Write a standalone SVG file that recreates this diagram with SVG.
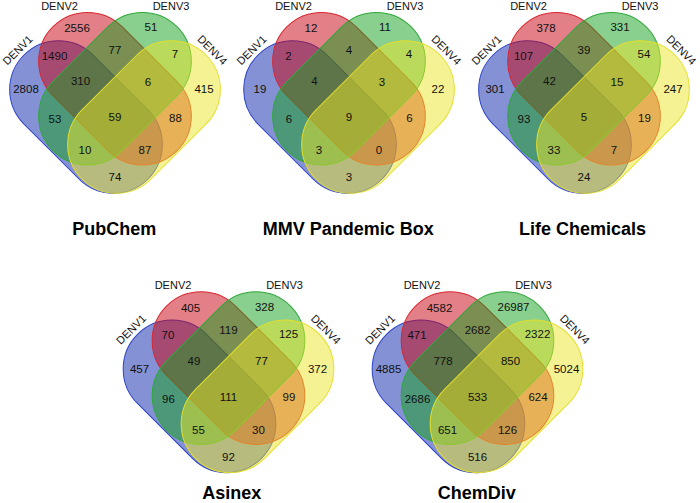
<svg xmlns="http://www.w3.org/2000/svg" xmlns:xlink="http://www.w3.org/1999/xlink" width="700" height="503" viewBox="0 0 700 503">
<style>
.b{fill:rgb(10,35,170);fill-opacity:.5;stroke:#2c42c4;stroke-width:1}
.r{fill:rgb(200,10,25);fill-opacity:.52;stroke:#d9262f;stroke-width:1}
.g{fill:rgb(20,160,30);fill-opacity:.5;stroke:#2fa83a;stroke-width:1}
.y{fill:rgb(235,230,40);fill-opacity:.5;stroke:#e3df2c;stroke-width:1}
text{font-family:"Liberation Sans",Arial,Helvetica,sans-serif;text-anchor:middle;fill:#111}
.n{font-size:11.5px}
.l{font-size:11px}
.t{font-size:18px;font-weight:bold;fill:#000}
</style>
<defs>
<rect id="s" x="-87.7" y="-48.85" width="175.4" height="97.7" rx="48.85" ry="48.85"/>
<g id="sets">
<use xlink:href="#s" class="b" transform="translate(-29,-0.3) rotate(45)"/>
<use xlink:href="#s" class="r" transform="translate(0,-28.6) rotate(45)"/>
<use xlink:href="#s" class="g" transform="translate(0,-28.6) rotate(-45)"/>
<use xlink:href="#s" class="y" transform="translate(29,-0.3) rotate(-45)"/>
</g>
<g id="labels">
<text class="l" transform="translate(-97.5,-67.3) rotate(-45)" x="0" y="4">DENV1</text>
<text class="l" x="-55.5" y="-107.8">DENV2</text>
<text class="l" x="56" y="-107.8">DENV3</text>
<text class="l" transform="translate(97.5,-67.3) rotate(45)" x="0" y="4">DENV4</text>
</g>
</defs>

<g id="pubchem" transform="translate(115,117.3)">
<use xlink:href="#sets"/>
<use xlink:href="#labels"/>
<g class="n">
<text x="-89" y="-23.9">2808</text><text x="-38" y="-84.9">2556</text><text x="36" y="-85.9">51</text><text x="89" y="-23.9">415</text>
<text x="-60.5" y="-57.4">1490</text><text x="0" y="-62.9">77</text><text x="60" y="-58.9">7</text>
<text x="-34.5" y="-31.9">310</text><text x="33" y="-31.4">6</text><text x="0" y="4.1">59</text>
<text x="-60" y="6.1">53</text><text x="60.5" y="4.6">88</text><text x="-30" y="37.1">10</text><text x="30" y="37.1">87</text><text x="0" y="64.1">74</text>
</g>
</g>
<text class="t" x="114.2" y="235">PubChem</text>

<g id="mmv" transform="translate(349,117.3)">
<use xlink:href="#sets"/>
<use xlink:href="#labels"/>
<g class="n">
<text x="-89" y="-23.9">19</text><text x="-38" y="-84.9">12</text><text x="36" y="-85.9">11</text><text x="89" y="-23.9">22</text>
<text x="-60.5" y="-57.4">2</text><text x="0" y="-62.9">4</text><text x="60" y="-58.9">4</text>
<text x="-34.5" y="-31.9">4</text><text x="33" y="-31.4">3</text><text x="0" y="4.1">9</text>
<text x="-60" y="6.1">6</text><text x="60.5" y="4.6">6</text><text x="-30" y="37.1">3</text><text x="30" y="37.1">0</text><text x="0" y="64.1">3</text>
</g>
</g>
<text class="t" x="348.3" y="235">MMV Pandemic Box</text>

<g id="lifechem" transform="translate(584,117.3)">
<use xlink:href="#sets"/>
<use xlink:href="#labels"/>
<g class="n">
<text x="-89" y="-23.9">301</text><text x="-38" y="-84.9">378</text><text x="36" y="-85.9">331</text><text x="89" y="-23.9">247</text>
<text x="-60.5" y="-57.4">107</text><text x="0" y="-62.9">39</text><text x="60" y="-58.9">54</text>
<text x="-34.5" y="-31.9">42</text><text x="33" y="-31.4">15</text><text x="0" y="4.1">5</text>
<text x="-60" y="6.1">93</text><text x="60.5" y="4.6">19</text><text x="-30" y="37.1">33</text><text x="30" y="37.1">7</text><text x="0" y="64.1">24</text>
</g>
</g>
<text class="t" x="582.5" y="235">Life Chemicals</text>

<g id="asinex" transform="translate(228.5,396.7)">
<use xlink:href="#sets"/>
<use xlink:href="#labels"/>
<g class="n">
<text x="-89" y="-23.9">457</text><text x="-38" y="-84.9">405</text><text x="36" y="-85.9">328</text><text x="89" y="-23.9">372</text>
<text x="-60.5" y="-57.4">70</text><text x="0" y="-62.9">119</text><text x="60" y="-58.9">125</text>
<text x="-34.5" y="-31.9">49</text><text x="33" y="-31.4">77</text><text x="0" y="4.1">111</text>
<text x="-60" y="6.1">96</text><text x="60.5" y="4.6">99</text><text x="-30" y="37.1">55</text><text x="30" y="37.1">30</text><text x="0" y="64.1">92</text>
</g>
</g>
<text class="t" x="231.7" y="499">Asinex</text>

<g id="chemdiv" transform="translate(477.5,396.7)">
<use xlink:href="#sets"/>
<use xlink:href="#labels"/>
<g class="n">
<text x="-89" y="-23.9">4885</text><text x="-38" y="-84.9">4582</text><text x="36" y="-85.9">26987</text><text x="89" y="-23.9">5024</text>
<text x="-60.5" y="-57.4">471</text><text x="0" y="-62.9">2682</text><text x="60" y="-58.9">2322</text>
<text x="-34.5" y="-31.9">778</text><text x="33" y="-31.4">850</text><text x="0" y="4.1">533</text>
<text x="-60" y="6.1">2686</text><text x="60.5" y="4.6">624</text><text x="-30" y="37.1">651</text><text x="30" y="37.1">126</text><text x="0" y="64.1">516</text>
</g>
</g>
<text class="t" x="476.7" y="499">ChemDiv</text>
</svg>
